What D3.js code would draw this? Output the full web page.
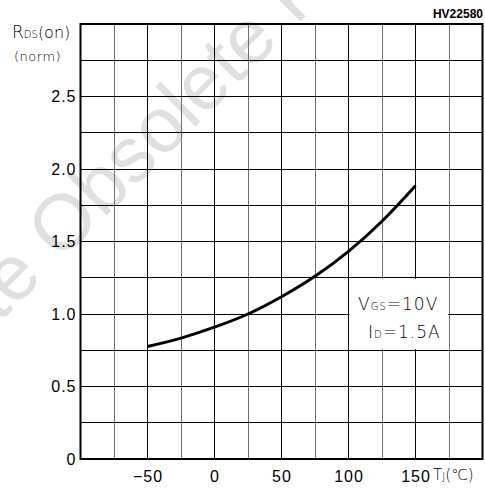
<!DOCTYPE html>
<html>
<head>
<meta charset="utf-8">
<script src="https://cdn.jsdelivr.net/npm/d3@7"></script>
<style>
  body { margin: 0; background: #fff; }
  svg { display: block; }
  .tick-label { font-family: "Liberation Sans", Arial, sans-serif; font-size: 16px; letter-spacing: 1px; fill: #000; }
  .thin { font-family: "DejaVu Sans", sans-serif; font-weight: 200; fill: #000; }
</style>
</head>
<body>
<div id="chart"></div>
<script>
// data
var temps = [-50, -25, 0, 25, 50, 75, 100, 125, 150];
var rdsNorm = [0.776, 0.834, 0.909, 1.0, 1.119, 1.26, 1.432, 1.64, 1.885];

var xTickValues = [-50, 0, 50, 100, 150];
var yTickValues = [0, 0.5, 1.0, 1.5, 2.0, 2.5];
var xGridValues = d3.range(-75, 200, 25);
var yGridValues = d3.range(0.25, 3, 0.25);

var svgWidth = 485;
var svgHeight = 488;

// plot area in pixels
var plot = { left: 80.5, right: 482.5, top: 24, bottom: 459 };

var SVG = d3.select("#chart")
  .append("svg")
  .attr("width", svgWidth)
  .attr("height", svgHeight);

var xScale = d3.scaleLinear().domain([-100, 200]).range([plot.left, plot.right]);
var yScale = d3.scaleLinear().domain([0, 3]).range([plot.bottom, plot.top]);

// watermark (behind everything)
var wm = SVG.append("g")
  .attr("transform", "translate(60, 262) rotate(-45)")
  .attr("font-family", "Liberation Sans, Arial, sans-serif")
  .attr("font-size", 78)
  .style("fill", "#e0e0e0");
wm.append("text").attr("x", 0).text("Obsolete Product(s)");
wm.append("text").attr("x", -22).attr("text-anchor", "end").text("Obsolete");

// tick labels
var yAxis = d3.axisLeft(yScale)
  .tickValues(yTickValues)
  .tickSize(0)
  .tickPadding(4)
  .tickFormat(d => d === 0 ? "0" : d.toFixed(1));
var yG = SVG.append("g")
  .attr("transform", `translate(${plot.left}, 0)`)
  .call(yAxis);
yG.select(".domain").remove();
yG.selectAll("text").attr("class", "tick-label").attr("font-family", null).attr("font-size", null);

var xAxis = d3.axisBottom(xScale)
  .tickValues(xTickValues)
  .tickSize(0)
  .tickPadding(12)
  .tickFormat(d3.format("d"));
var xG = SVG.append("g")
  .attr("transform", `translate(0, ${plot.bottom})`)
  .call(xAxis);
xG.select(".domain").remove();
xG.selectAll("text").attr("class", "tick-label").attr("font-family", null).attr("font-size", null);

// axis titles
var rTitle = SVG.append("text").attr("class", "thin").attr("x", 12).attr("y", 38);
rTitle.append("tspan").attr("font-size", 17).text("R");
rTitle.append("tspan").attr("font-size", 10).text("DS");
rTitle.append("tspan").attr("font-size", 16).text("(on)");
SVG.append("text").attr("class", "thin").attr("x", 14).attr("y", 61)
  .attr("font-size", 13).attr("letter-spacing", 0.5).text("(norm)");

var tTitle = SVG.append("text").attr("class", "thin").attr("x", 433).attr("y", 480);
tTitle.append("tspan").attr("font-size", 15).text("T");
tTitle.append("tspan").attr("font-size", 10).text("J");
tTitle.append("tspan").attr("font-size", 15).text("(℃)");

SVG.append("text")
  .attr("x", 483).attr("y", 18)
  .attr("text-anchor", "end")
  .attr("font-family", "Liberation Sans, Arial, sans-serif")
  .attr("font-weight", "bold")
  .attr("font-size", 12)
  .text("HV22580");

// grid
var grid = SVG.append("g").attr("shape-rendering", "crispEdges");
grid.selectAll(".vgrid")
  .data(xGridValues)
  .enter()
  .append("line")
  .attr("x1", d => xScale(d)).attr("x2", d => xScale(d))
  .attr("y1", plot.top).attr("y2", plot.bottom)
  .attr("stroke", d => d % 50 === 0 ? "#000" : "#6e6e6e")
  .attr("stroke-width", 1);
grid.selectAll(".hgrid")
  .data(yGridValues)
  .enter()
  .append("line")
  .attr("x1", plot.left).attr("x2", plot.right)
  .attr("y1", d => yScale(d)).attr("y2", d => yScale(d))
  .attr("stroke", "#000")
  .attr("stroke-width", 1);

// legend box knocks out the grid inside it
SVG.append("rect")
  .attr("x", xScale(100) + 1)
  .attr("y", yScale(1.25) + 1)
  .attr("width", xScale(175) - xScale(100) - 2)
  .attr("height", yScale(0.75) - yScale(1.25) - 2)
  .style("fill", "#fff");

var l1 = SVG.append("text").attr("class", "thin").attr("x", 358).attr("y", 310).attr("letter-spacing", 1);
l1.append("tspan").attr("font-size", 17).text("V");
l1.append("tspan").attr("font-size", 10).text("GS");
l1.append("tspan").attr("font-size", 17).text("=10V");
var l2 = SVG.append("text").attr("class", "thin").attr("x", 368).attr("y", 338).attr("letter-spacing", 1);
l2.append("tspan").attr("font-size", 17).text("I");
l2.append("tspan").attr("font-size", 10).text("D");
l2.append("tspan").attr("font-size", 17).text("=1.5A");

// frame
SVG.append("rect")
  .attr("x", plot.left).attr("y", plot.top)
  .attr("width", plot.right - plot.left)
  .attr("height", plot.bottom - plot.top)
  .style("fill", "none")
  .style("stroke", "#000")
  .style("stroke-width", 2);

// curve
var line = d3.line()
  .x((d, i) => xScale(temps[i]))
  .y(d => yScale(d))
  .curve(d3.curveMonotoneX);

SVG.append("path")
  .datum(rdsNorm)
  .attr("d", line)
  .style("fill", "none")
  .style("stroke", "#000")
  .style("stroke-width", 3);
</script>
</body>
</html>
